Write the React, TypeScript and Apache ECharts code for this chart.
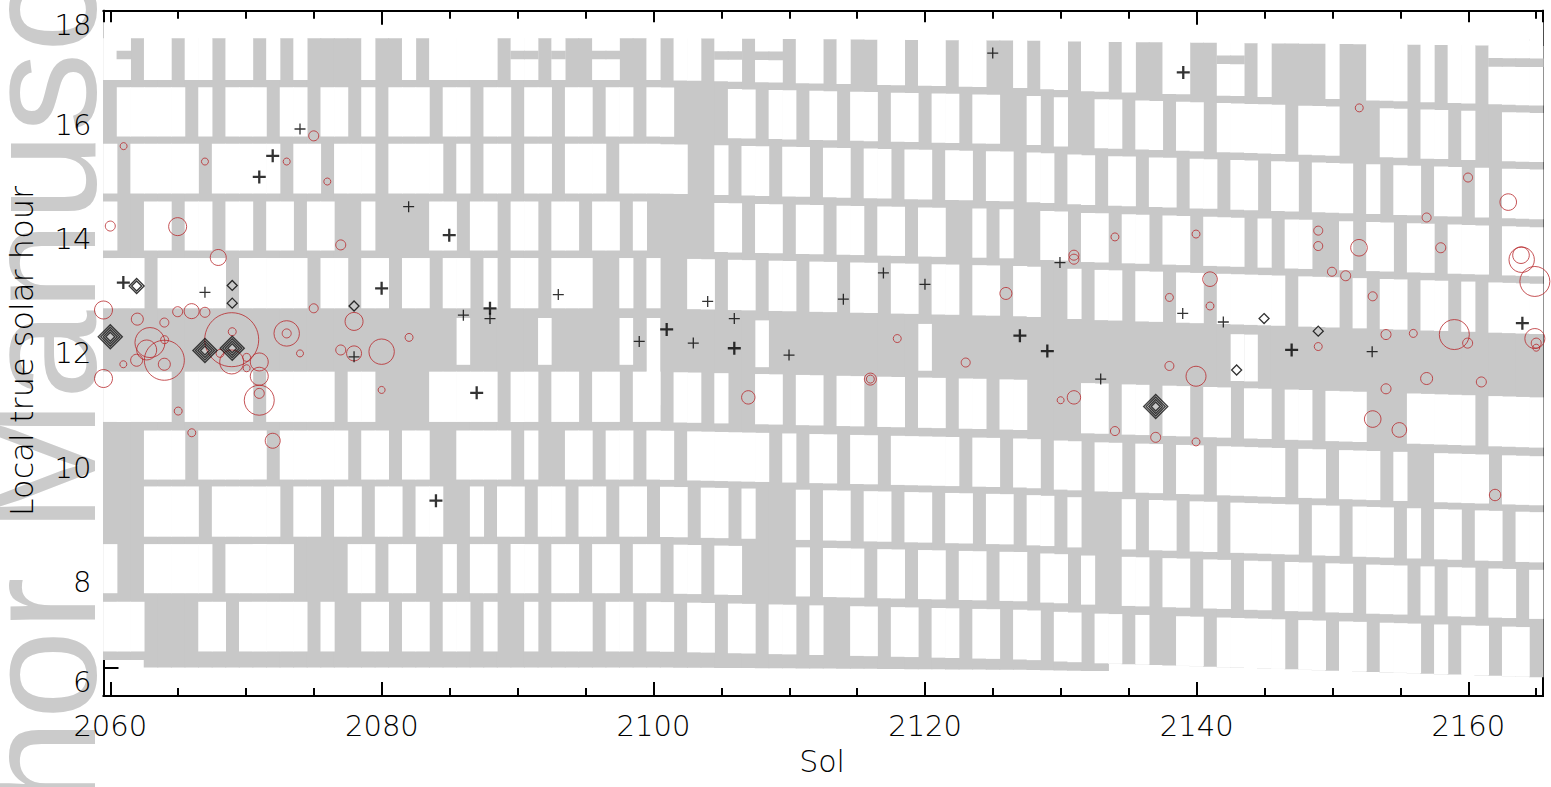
import React, { useEffect, useRef } from 'react';
import * as echarts from 'echarts';

// ---------------- axes ----------------
const SOL_MIN = 2059.5;
const SOL_MAX = 2165.5;
const HOUR_MIN = 6;
const HOUR_MAX = 18;
const xMajorTicks = [2060, 2080, 2100, 2120, 2140, 2160];
const xMinorTicks = [2065, 2070, 2075, 2085, 2090, 2095, 2105, 2110, 2115, 2125, 2130, 2135, 2145, 2150, 2155, 2165];
const yMajorTicks = [6, 8, 10, 12, 14, 16, 18];
const yMinorTicks = [6.5, 7, 7.5, 8.5, 9, 9.5, 10.5, 11, 11.5, 12.5, 13, 13.5, 14.5, 15, 15.5, 16.5, 17, 17.5];

// ---------------- observation coverage (gray) ----------------
const firstSol = 2060;
const lastSol = 2165;
// drift of the local-time pattern (hours) read at a few sols
const driftSols = [2060, 2100, 2127, 2132, 2165];
const driftHours = [0, 0, -0.14, -0.2, -0.45];
// white rows (hour bounds at sol 2060), bottom to top
const rowLo = [6.78, 7.8, 8.79, 9.79, 10.8, 12.79, 13.8, 14.8, 15.8, 16.79];
const rowHi = [7.65, 8.66, 9.67, 10.65, 11.68, 13.67, 14.66, 15.67, 16.66, 17.8];
// sols observed (gray) inside each white row
const grayRowE = [2063, 2064, 2065, 2066, 2069, 2075, 2077, 2078, 2081, 2084, 2087, 2089, 2090, 2092, 2096, 2099, 2102, 2105, 2108, 2111, 2113, 2114, 2117, 2120, 2123, 2126, 2129, 2132, 2135, 2137, 2138, 2141, 2147, 2150, 2153, 2157, 2159, 2162, 2165];
const grayRowD = [2061, 2062, 2068, 2074, 2075, 2076, 2077, 2080, 2083, 2084, 2086, 2089, 2092, 2095, 2098, 2101, 2104, 2107, 2108, 2109, 2110, 2112, 2116, 2119, 2122, 2125, 2128, 2131, 2133, 2134, 2137, 2140, 2143, 2146, 2149, 2152, 2156, 2158, 2161, 2164];
const grayRowC = [2060, 2061, 2062, 2067, 2073, 2076, 2079, 2082, 2085, 2086, 2088, 2091, 2094, 2097, 2100, 2103, 2106, 2108, 2109, 2110, 2112, 2115, 2118, 2121, 2124, 2127, 2130, 2132, 2133, 2134, 2136, 2139, 2142, 2148, 2151, 2155, 2157, 2160, 2163];
const grayRowB = [2060, 2061, 2062, 2066, 2072, 2078, 2081, 2084, 2085, 2090, 2092, 2093, 2096, 2099, 2102, 2109, 2111, 2114, 2117, 2123, 2126, 2129, 2132, 2135, 2138, 2141, 2147, 2150, 2154, 2156, 2157, 2162];
const grayRowA = [2065, 2071, 2077, 2080, 2081, 2082, 2083, 2089, 2092, 2095, 2098, 2101, 2104, 2106, 2107, 2110, 2113, 2116, 2119, 2122, 2125, 2128, 2129, 2130, 2131, 2134, 2137, 2140, 2143, 2146, 2149, 2153, 2154, 2155, 2161];
const grayRowF = [2063, 2069, 2075, 2078, 2081, 2084, 2087, 2089, 2092, 2096, 2097, 2099, 2101, 2102, 2105, 2108, 2111, 2114, 2117, 2120, 2123, 2126, 2129, 2130, 2132, 2135, 2138, 2141, 2147, 2151, 2153, 2156, 2159, 2161];
const grayRowG = [2061, 2062, 2065, 2068, 2071, 2074, 2077, 2078, 2080, 2081, 2082, 2083, 2086, 2089, 2092, 2095, 2098, 2100, 2101, 2102, 2103, 2104, 2107, 2110, 2113, 2116, 2119, 2122, 2123, 2125, 2127, 2128, 2131, 2134, 2137, 2140, 2144, 2146, 2149, 2150, 2152, 2155, 2158, 2162];
const grayRowH = [2061, 2067, 2073, 2076, 2080, 2085, 2087, 2090, 2093, 2097, 2103, 2104, 2106, 2109, 2112, 2115, 2118, 2121, 2124, 2127, 2130, 2133, 2136, 2139, 2142, 2145, 2148, 2152, 2154, 2157, 2160, 2162];
const grayRowI = [2060, 2066, 2068, 2072, 2075, 2078, 2080, 2084, 2087, 2090, 2093, 2096, 2099, 2102, 2103, 2104, 2105, 2108, 2111, 2114, 2117, 2120, 2123, 2126, 2127, 2129, 2131, 2132, 2135, 2138, 2141, 2147, 2151, 2152, 2153, 2156, 2159, 2161, 2162];
const grayRowT = [2062, 2065, 2068, 2071, 2073, 2075, 2076, 2077, 2078, 2080, 2081, 2083, 2089, 2092, 2094, 2095, 2098, 2099, 2101, 2104, 2107, 2110, 2113, 2115, 2116, 2119, 2122, 2125, 2126, 2128, 2131, 2134, 2136, 2137, 2140, 2141, 2144, 2146, 2147, 2148, 2149, 2151, 2152, 2156, 2158, 2161];
// unobserved notches inside the noon band
const noonNotchSols = [2086, 2092, 2098, 2100, 2108, 2120, 2143, 2144];
const noonNotchLo = [11.8, 11.8, 11.8, 11.09, 11.8, 11.8, 11.8, 11.8];
// short gray bar in the top row
const topBandSols = [2061, 2090, 2091, 2093, 2096, 2097, 2105, 2106, 2108, 2109, 2142, 2143, 2162, 2163, 2164, 2165];
// sols whose bottom band is thinner
const thinBottomSols = [2060, 2061, 2062];

// ---------------- events ----------------
// [sol, hour, radius px]
const redCircles = [
  [2059.5, 12.76, 9], [2059.5, 11.56, 9],
  [2060.98, 15.63, 3.5], [2066.97, 15.36, 3.5], [2072.99, 15.36, 3.5], [2074.98, 15.81, 5], [2075.98, 15.01, 3.5],
  [2060.0, 14.23, 5], [2064.96, 14.22, 9], [2067.95, 13.68, 8], [2076.97, 13.9, 5],
  [2061.99, 12.6, 6], [2063.98, 12.54, 4.5], [2064.96, 12.73, 5], [2065.99, 12.74, 7.5], [2066.97, 12.72, 5], [2074.98, 12.79, 4.5], [2077.95, 12.56, 9],
  [2072.99, 12.35, 12.7], [2072.99, 12.35, 4.5], [2082.0, 12.28, 4], [2068.94, 12.24, 27], [2068.98, 12.38, 4], [2079.98, 12.03, 12.7],
  [2076.97, 12.06, 5], [2077.95, 12.0, 7.5], [2073.97, 12.0, 3.5], [2079.98, 11.36, 3.5],
  [2062.92, 12.19, 15], [2062.68, 12.06, 10], [2063.98, 11.88, 20], [2063.98, 11.81, 6], [2064.0, 12.24, 4], [2061.94, 11.88, 6], [2060.96, 11.81, 3.5],
  [2065.0, 10.99, 4], [2066.0, 10.61, 4], [2071.96, 10.47, 7.5], [2068.94, 11.85, 12], [2068.08, 12.0, 4], [2070.04, 11.93, 4], [2070.04, 11.74, 3.5],
  [2070.97, 11.85, 9], [2070.97, 11.6, 9], [2070.97, 11.18, 15], [2070.97, 11.3, 5],
  [2125.95, 13.05, 6], [2117.95, 12.26, 4], [2122.99, 11.84, 4.5], [2115.97, 11.55, 6], [2115.97, 11.55, 4], [2106.98, 11.23, 6.7], [2129.98, 11.18, 3.5],
  [2151.97, 16.3, 4], [2159.98, 15.08, 4.5], [2162.94, 14.65, 8.3], [2156.93, 14.38, 4.5], [2133.98, 14.04, 4], [2139.95, 14.09, 4],
  [2148.95, 14.15, 4.5], [2148.95, 13.88, 4.5], [2151.95, 13.85, 8.3], [2157.97, 13.85, 5], [2163.88, 13.72, 8.3], [2163.93, 13.64, 12.7], [2164.9, 13.26, 15],
  [2130.96, 13.72, 5], [2130.96, 13.65, 5], [2140.98, 13.3, 7.3], [2137.99, 12.98, 4], [2140.98, 12.83, 4], [2149.96, 13.43, 4.5], [2150.97, 13.36, 5],
  [2152.96, 13.0, 4.5], [2153.94, 12.33, 5], [2155.95, 12.35, 4], [2158.97, 12.33, 15], [2159.95, 12.18, 5], [2148.95, 12.12, 4],
  [2164.9, 12.26, 10], [2165.0, 12.18, 5], [2165.0, 12.1, 3.5],
  [2130.96, 11.23, 6.7], [2137.99, 11.78, 4.5], [2139.95, 11.6, 10], [2133.98, 10.64, 4.5], [2136.98, 10.53, 5], [2139.95, 10.45, 4],
  [2153.94, 11.38, 5], [2156.93, 11.56, 6], [2160.96, 11.5, 5], [2152.96, 10.85, 8.3], [2154.92, 10.66, 7.3], [2161.97, 9.52, 5.7],
];
const plusThin = [
  [2073.97, 15.93], [2081.97, 14.57], [2066.97, 13.07], [2086.0, 12.67], [2087.96, 12.61], [2092.99, 13.03], [2077.95, 11.94],
  [2124.98, 17.26], [2116.93, 13.41], [2119.99, 13.21], [2113.98, 12.95], [2103.99, 12.91], [2105.95, 12.61], [2129.93, 13.59],
  [2098.95, 12.21], [2102.93, 12.18], [2109.98, 11.97], [2138.97, 12.7], [2141.96, 12.55], [2152.92, 12.03], [2132.93, 11.55],
];
const plusBold = [
  [2071.96, 15.46], [2070.97, 15.09], [2084.96, 14.07], [2060.96, 13.24], [2079.98, 13.14], [2087.96, 12.79], [2086.98, 11.31],
  [2083.98, 9.42], [2100.97, 12.42], [2105.95, 12.09], [2126.98, 12.31], [2129.0, 12.04], [2139.01, 16.92], [2146.99, 12.06], [2163.98, 12.53],
];
const diamondThin = [[2068.98, 13.19], [2068.98, 12.88], [2077.95, 12.83], [2144.96, 12.61], [2148.95, 12.39], [2142.94, 11.71]];
const diamondDouble = [[2061.94, 13.18]];
const diamondNested = [[2060.0, 12.29], [2066.97, 12.05], [2068.98, 12.09], [2136.98, 11.07]];

const GRAY = '#c8c8c8';
const RED = '#b8282c';
const FONT = 'DejaVu Sans';
const WM_SIZE = 160;

function shiftAt(sol: number): number {
  for (let i = 0; i < driftSols.length - 1; i++) {
    if (sol <= driftSols[i + 1]) {
      const t = (sol - driftSols[i]) / (driftSols[i + 1] - driftSols[i]);
      return driftHours[i] + t * (driftHours[i + 1] - driftHours[i]);
    }
  }
  return driftHours[driftHours.length - 1];
}

const coverageSols: number[] = [];
for (let s = firstSol; s <= lastSol; s++) coverageSols.push(s);
const grayRows = [grayRowE, grayRowD, grayRowC, grayRowB, grayRowA, grayRowF, grayRowG, grayRowH, grayRowI, grayRowT];
const whiteCells: number[][] = [];
grayRows.forEach((g, r) => {
  coverageSols.forEach((s) => {
    if (g.indexOf(s) < 0) whiteCells.push([s, r]);
  });
});

function rectBetween(api: any, s0: number, s1: number, h0: number, h1: number, fill: string, pad: number) {
  const p1 = api.coord([s0, h1]);
  const p2 = api.coord([s1, h0]);
  return {
    type: 'rect',
    shape: { x: p1[0] - pad, y: p1[1], width: p2[0] - p1[0] + 2 * pad, height: p2[1] - p1[1] },
    style: { fill },
  };
}

function xAxisDef(position: string, ticks: number[], len: number, labels: boolean) {
  return {
    type: 'value', min: SOL_MIN, max: SOL_MAX, position, gridIndex: 0,
    axisLine: { show: true, onZero: false, lineStyle: { color: '#000', width: 2 } },
    axisTick: { show: true, inside: true, length: len, customValues: ticks, lineStyle: { color: '#000', width: 2 } },
    axisLabel: labels
      ? { show: true, customValues: ticks, margin: 15, fontSize: 29, fontFamily: FONT, fontWeight: 200, color: '#000', formatter: (v: number) => String(v) }
      : { show: false },
    splitLine: { show: false },
  };
}
function yAxisDef(position: string, ticks: number[], len: number, labels: boolean) {
  return {
    type: 'value', min: HOUR_MIN, max: HOUR_MAX, position, gridIndex: 0,
    axisLine: { show: true, onZero: false, lineStyle: { color: '#000', width: 2 } },
    axisTick: { show: true, inside: true, length: len, customValues: ticks, lineStyle: { color: '#000', width: 2 } },
    axisLabel: labels
      ? {
          show: true, customValues: ticks, margin: 12, fontSize: 29, fontFamily: FONT, fontWeight: 200, color: '#000',
          verticalAlignMinLabel: 'bottom', verticalAlignMaxLabel: 'top', formatter: (v: number) => String(v),
        }
      : { show: false },
    splitLine: { show: false },
  };
}

function buildOption() {
  return {
    animation: false,
    grid: { left: 103.5, right: 8, top: 10.8, bottom: 91, containLabel: false },
    xAxis: [
      xAxisDef('bottom', xMajorTicks, 14, true),
      xAxisDef('bottom', xMinorTicks, 8, false),
      xAxisDef('top', xMajorTicks, 14, false),
      xAxisDef('top', xMinorTicks, 8, false),
    ],
    yAxis: [
      yAxisDef('left', yMajorTicks, 29, true),
      yAxisDef('left', yMinorTicks, 15, false),
      yAxisDef('right', yMajorTicks, 29, false),
      yAxisDef('right', yMinorTicks, 15, false),
    ],
    graphic: [
      {
        type: 'text', z: -10, x: 95 - 0.35 * WM_SIZE, y: 675 + 2.335 * WM_SIZE, rotation: Math.PI / 2, silent: true,
        style: { text: 'Author Manuscript', fill: '#cbcbcb', font: `${WM_SIZE}px "Liberation Sans"`, align: 'left', verticalAlign: 'middle' },
      },
      {
        type: 'text', x: 22, y: 351, rotation: Math.PI / 2, silent: true,
        style: { text: 'Local true solar hour', fill: '#000', font: `200 32px "${FONT}"`, align: 'center', verticalAlign: 'middle' },
      },
      {
        type: 'text', x: 822, y: 761, silent: true,
        style: { text: 'Sol', fill: '#000', font: `200 30px "${FONT}"`, align: 'center', verticalAlign: 'middle' },
      },
    ],
    series: [
      {
        type: 'custom', silent: true, z: 1, clip: true,
        data: coverageSols.map((s) => [s, 12]),
        renderItem: (params: any, api: any) => {
          const s = api.value(0);
          const sh = shiftAt(s);
          let lo = s <= 2133 ? 6.5 + sh * 0.3 : rowLo[0] + sh;
          if (thinBottomSols.indexOf(s) >= 0) lo = 6.63;
          const hi = 17.52 + sh * 0.3;
          return rectBetween(api, s - 0.5, s + 0.5, lo, hi, GRAY, 0.5);
        },
      },
      {
        type: 'custom', silent: true, z: 2, clip: true,
        data: whiteCells,
        renderItem: (params: any, api: any) => {
          const s = api.value(0);
          const r = api.value(1);
          const sh = shiftAt(s);
          const lo = rowLo[r] + sh;
          const hi = r === rowHi.length - 1 ? rowHi[r] : rowHi[r] + sh;
          return rectBetween(api, s - 0.5, s + 0.5, lo, hi, '#fff', 0.3);
        },
      },
      {
        type: 'custom', silent: true, z: 3, clip: true,
        data: noonNotchSols.map((s, i) => [s, noonNotchLo[i]]),
        renderItem: (params: any, api: any) => {
          const s = api.value(0);
          const sh = shiftAt(s);
          return rectBetween(api, s - 0.5, s + 0.5, api.value(1) + sh, 12.62 + sh, '#fff', 0);
        },
      },
      {
        type: 'custom', silent: true, z: 3, clip: true,
        data: topBandSols.map((s) => [s, 17.2]),
        renderItem: (params: any, api: any) => {
          const s = api.value(0);
          const sh = shiftAt(s);
          return rectBetween(api, s - 0.5, s + 0.5, 17.15 + sh * 0.3, 17.3 + sh * 0.3, GRAY, 0.5);
        },
      },
      {
        type: 'scatter', silent: true, z: 5, clip: true,
        data: redCircles,
        symbol: 'circle',
        symbolSize: (v: number[]) => v[2] * 2,
        itemStyle: { color: 'rgba(0,0,0,0)', borderColor: RED, borderWidth: 1 },
      },
      {
        type: 'scatter', silent: true, z: 6, clip: true,
        data: plusThin,
        symbol: 'path://M5,0L5,10M0,5L10,5',
        symbolSize: 11,
        itemStyle: { color: 'rgba(0,0,0,0)', borderColor: '#000', borderWidth: 1.3 },
      },
      {
        type: 'scatter', silent: true, z: 6, clip: true,
        data: plusBold,
        symbol: 'path://M5,0L5,10M0,5L10,5',
        symbolSize: 13,
        itemStyle: { color: 'rgba(0,0,0,0)', borderColor: '#000', borderWidth: 2.3 },
      },
      {
        type: 'scatter', silent: true, z: 6, clip: true,
        data: diamondThin, symbol: 'diamond', symbolSize: 10,
        itemStyle: { color: 'rgba(0,0,0,0)', borderColor: '#000', borderWidth: 1.3 },
      },
      ...[15, 10].map((sz) => ({
        type: 'scatter', silent: true, z: 6, clip: true,
        data: diamondDouble, symbol: 'diamond', symbolSize: sz,
        itemStyle: { color: 'rgba(0,0,0,0)', borderColor: '#000', borderWidth: 1.3 },
      })),
      ...[24, 19, 14, 9].map((sz) => ({
        type: 'scatter', silent: true, z: 6, clip: true,
        data: diamondNested, symbol: 'diamond', symbolSize: sz,
        itemStyle: { color: 'rgba(0,0,0,0)', borderColor: '#111', borderWidth: 1.4 },
      })),
    ],
  };
}

export default function App() {
  const ref = useRef<HTMLDivElement>(null);
  useEffect(() => {
    if (!ref.current) return;
    const chart = echarts.init(ref.current, null, { renderer: 'svg' });
    chart.setOption(buildOption() as any);
    return () => chart.dispose();
  }, []);
  return (
    <div
      ref={ref}
      style={{ position: 'fixed', left: 0, top: 0, width: 1551, height: 787, background: '#fff' }}
    />
  );
}
